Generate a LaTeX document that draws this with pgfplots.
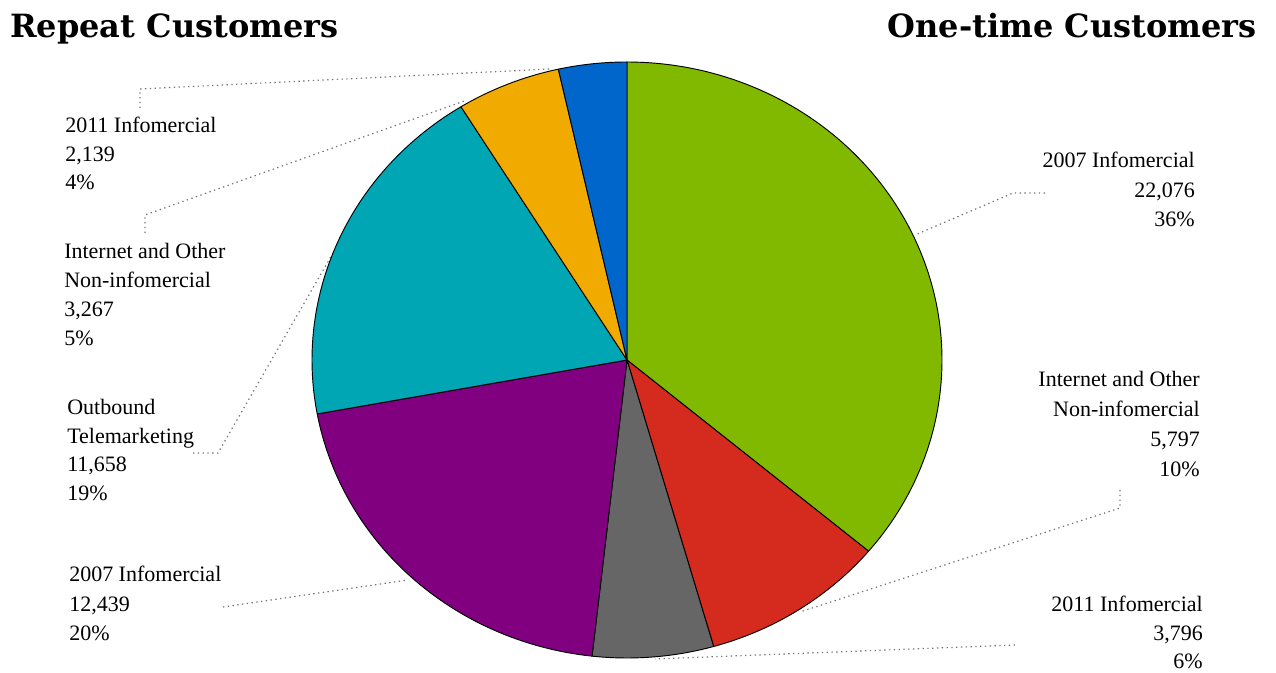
\documentclass[border=0pt]{standalone}
\usepackage{pgfplots}
\usepackage{pgfplotstable}
\pgfplotsset{compat=1.18}
\usepackage{fontspec}
\setmainfont{Liberation Serif}
\newfontfamily\titlefont{DejaVu Serif}

\definecolor{cgreen}{RGB}{128,185,0}
\definecolor{cred}{RGB}{213,43,30}
\definecolor{cgray}{RGB}{102,102,102}
\definecolor{cpurple}{RGB}{128,0,128}
\definecolor{cteal}{RGB}{0,166,180}
\definecolor{corange}{RGB}{240,170,0}
\definecolor{cblue}{RGB}{0,102,204}

% slices, clockwise from 12 o'clock
\pgfplotstableread{
value
22076
5797
3796
12439
11658
3267
2139
}\piedata

\newcommand\getv[2]{\pgfplotstablegetelem{#1}{value}\of\piedata\edef#2{\pgfplotsretval}}
\newcommand\slice[3]{\filldraw[fill=#1, draw=black, line width=0.7pt, line join=round]
  (axis cs:627,313) -- plot[domain=#2:#3, samples=100, variable=\t]
  (axis cs:{627+315*cos(\t)},{313+298*sin(\t)}) -- cycle;}
\newcommand\lbl[4]{\node[anchor=base #3, inner sep=0pt, font=\fontsize{16.5}{20}\selectfont] at (axis cs:#1,#2) {#4};}
\tikzset{leader/.style={draw=black!55, line width=0.9pt, dash pattern=on 1pt off 2.6pt}}

\begin{document}
\begin{tikzpicture}
\getv{0}\vA \getv{1}\vB \getv{2}\vC \getv{3}\vD \getv{4}\vE \getv{5}\vF \getv{6}\vG
\edef\tot{\fpeval{\vA+\vB+\vC+\vD+\vE+\vF+\vG}}
\edef\aA{90}
\edef\aB{\fpeval{\aA-360*\vA/\tot}}
\edef\aC{\fpeval{\aB-360*\vB/\tot}}
\edef\aD{\fpeval{\aC-360*\vC/\tot}}
\edef\aE{\fpeval{\aD-360*\vD/\tot}}
\edef\aF{\fpeval{\aE-360*\vE/\tot}}
\edef\aG{\fpeval{\aF-360*\vF/\tot}}
\edef\aH{\fpeval{\aG-360*\vG/\tot}}
\begin{axis}[scale only axis, width=957pt, height=504.75pt,
  xmin=0, xmax=1276, ymin=0, ymax=673, hide axis, clip=false]
% leader lines
\draw[leader] (axis cs:140,565) -- (axis cs:140,584) -- (axis cs:550,604);
\draw[leader] (axis cs:145,440) -- (axis cs:145,458) -- (axis cs:467,573);
\draw[leader] (axis cs:193,220) -- (axis cs:218,220) -- (axis cs:333,420);
\draw[leader] (axis cs:223,66) -- (axis cs:408,93);
\draw[leader] (axis cs:1045,480) -- (axis cs:1013,480) -- (axis cs:915,438);
\draw[leader] (axis cs:1120,183) -- (axis cs:1120,165) -- (axis cs:800,61);
\draw[leader] (axis cs:1015,28) -- (axis cs:655,14);
% pie
\slice{cgreen}{\aA}{\aB}
\slice{cred}{\aB}{\aC}
\slice{cgray}{\aC}{\aD}
\slice{cpurple}{\aD}{\aE}
\slice{cteal}{\aE}{\aF}
\slice{corange}{\aF}{\aG}
\slice{cblue}{\aG}{\aH}
% titles
\node[anchor=base west, inner sep=0pt, font=\titlefont\bfseries\fontsize{24}{28}\selectfont] at (axis cs:10,635) {Repeat Customers};
\node[anchor=base east, inner sep=0pt, font=\titlefont\bfseries\fontsize{24}{28}\selectfont] at (axis cs:1257,635) {One-time Customers};
% left labels
\lbl{65}{540}{west}{2011 Infomercial}
\lbl{65}{511}{west}{2,139}
\lbl{65}{483}{west}{4\%}
\lbl{64}{414}{west}{Internet and Other}
\lbl{64}{385}{west}{Non-infomercial}
\lbl{64}{356}{west}{3,267}
\lbl{64}{327}{west}{5\%}
\lbl{67}{258}{west}{Outbound}
\lbl{67}{229}{west}{Telemarketing}
\lbl{67}{201}{west}{11,658}
\lbl{67}{172}{west}{19\%}
\lbl{69}{91}{west}{2007 Infomercial}
\lbl{69}{61}{west}{12,439}
\lbl{69}{32}{west}{20\%}
% right labels
\lbl{1195}{505}{east}{2007 Infomercial}
\lbl{1195}{475}{east}{22,076}
\lbl{1195}{446}{east}{36\%}
\lbl{1200}{286}{east}{Internet and Other}
\lbl{1200}{256}{east}{Non-infomercial}
\lbl{1200}{226}{east}{5,797}
\lbl{1200}{196}{east}{10\%}
\lbl{1203}{61}{east}{2011 Infomercial}
\lbl{1203}{32}{east}{3,796}
\lbl{1203}{4}{east}{6\%}
\end{axis}
\pgfresetboundingbox
\path (0,0) rectangle (957pt,504.75pt);
\end{tikzpicture}
\end{document}
